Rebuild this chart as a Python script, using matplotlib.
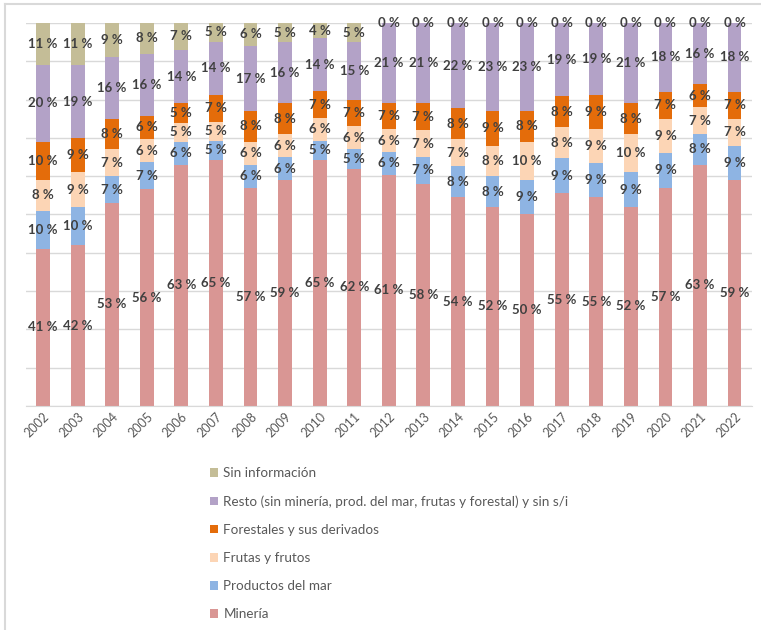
import numpy as np
import matplotlib.pyplot as plt
from matplotlib.lines import Line2D

plt.rcParams['font.family'] = ['Lato', 'DejaVu Sans']

years = [str(y) for y in range(2002, 2023)]

mineria = [41, 42, 53, 56, 63, 65, 57, 59, 65, 62, 61, 58, 54, 52, 50, 55, 55, 52, 57, 63, 59]
prod_mar = [10, 10, 7, 7, 6, 5, 6, 6, 5, 5, 6, 7, 8, 8, 9, 9, 9, 9, 9, 8, 9]
frutas = [8, 9, 7, 6, 5, 5, 6, 6, 6, 6, 6, 7, 7, 8, 10, 8, 9, 10, 9, 7, 7]
forestales = [10, 9, 8, 6, 5, 7, 8, 8, 7, 7, 7, 7, 8, 9, 8, 8, 9, 8, 7, 6, 7]
resto = [20, 19, 16, 16, 14, 14, 17, 16, 14, 15, 21, 21, 22, 23, 23, 19, 19, 21, 18, 16, 18]
sin_info = [11, 11, 9, 8, 7, 5, 6, 5, 4, 5, 0, 0, 0, 0, 0, 0, 0, 0, 0, 0, 0]

series = [
    ("Minería", mineria, "#D99694"),
    ("Productos del mar", prod_mar, "#8EB4E3"),
    ("Frutas y frutos", frutas, "#FCD5B5"),
    ("Forestales y sus derivados", forestales, "#E46C0A"),
    ("Resto (sin minería, prod. del mar, frutas y forestal) y sin s/i", resto, "#B3A2C7"),
    ("Sin información", sin_info, "#C4BD97"),
]

fig = plt.figure(figsize=(7.61, 6.30), dpi=100)
ax = fig.add_axes([0.0338, 0.3556, 0.9542, 0.6079])

x = np.arange(len(years))
totals = np.sum([s[1] for s in series], axis=0)
bottom = np.zeros(len(years))
handles = []
for name, vals, color in series:
    share = np.array(vals) / totals * 100
    b = ax.bar(x, share, 0.4, bottom=bottom, color=color, label=name, zorder=2)
    handles.append(b)
    for xi, bi, hi, v in zip(x, bottom, share, vals):
        ax.text(xi, bi + hi / 2, f"{v} %", ha='center', va='center',
                fontsize=9.5, fontweight='bold', color='#404040', zorder=3)
    bottom += share

ax.set_xlim(-0.5, len(years) - 0.5)
ax.set_ylim(0, 100)
ax.set_yticks(np.arange(0, 101, 10))
ax.set_yticklabels([])
ax.tick_params(axis='y', length=0)
ax.tick_params(axis='x', length=0, pad=3, colors='#595959', labelsize=9)
ax.set_xticks(x)
ax.set_xticklabels(years, rotation=45, ha='right', rotation_mode='anchor')
ax.grid(axis='y', color='#D9D9D9', linewidth=1, zorder=0)
for side in ['top', 'right', 'left']:
    ax.spines[side].set_visible(False)
ax.spines['bottom'].set_color('#D9D9D9')

leg = fig.legend(handles[::-1], [s[0] for s in series][::-1],
                 loc='upper left', bbox_to_anchor=(0.26, 0.278),
                 frameon=False, fontsize=9.7, handlelength=0.6, handleheight=0.6,
                 handletextpad=0.4, labelspacing=1.2)
for t in leg.get_texts():
    t.set_color('#595959')

# thin frame lines like the original chart area
fig.add_artist(Line2D([0.007, 0.007], [0, 0.994], color='#D9D9D9', linewidth=1.5))
fig.add_artist(Line2D([0.007, 1], [0.994, 0.994], color='#D9D9D9', linewidth=1.5))

fig.savefig('out.png', dpi=100)
